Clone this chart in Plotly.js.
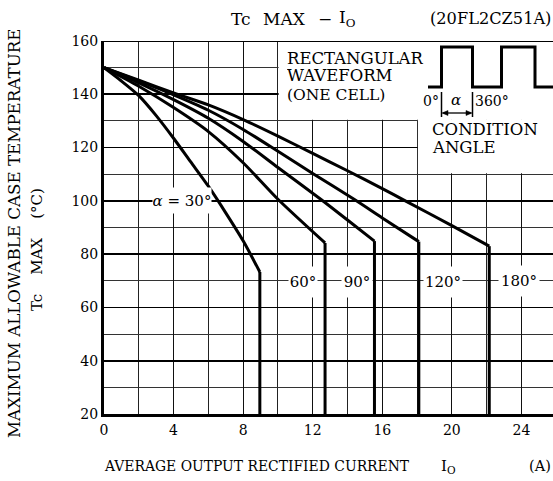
<!DOCTYPE html>
<html>
<head>
<meta charset="utf-8">
<script src="https://cdn.plot.ly/plotly-3.0.1.min.js"></script>
<style>
html,body{margin:0;padding:0;overflow:hidden;background:#fff;}
#chart{width:600px;height:481px;}
</style>
</head>
<body>
<div id="chart"></div>
<script>
// ---- data ----
var seriesNames = ["30°", "60°", "90°", "120°", "180°"];
var io30  = [0, 1, 2, 3, 4, 5, 6, 7, 8, 8.96, 8.96];
var tc30  = [150, 145, 139.5, 132, 123.5, 114.5, 105.5, 95.5, 85, 73.3, 20];
var io60  = [0, 2, 4, 6, 8, 10, 12.71, 12.71];
var tc60  = [150, 143, 135, 126, 114.3, 100.6, 84.2, 20];
var io90  = [0, 2, 4, 6, 8, 10, 12.48, 14, 15.55, 15.55];
var tc90  = [150, 144.3, 138, 131, 122.3, 112.5, 100.5, 92.8, 84.9, 20];
var io120 = [0, 2, 4, 6, 8, 10, 12, 14.4, 16, 18.1, 18.1];
var tc120 = [150, 145, 139.8, 134, 126.8, 118.6, 110.3, 100.5, 93.6, 84.7, 20];
var io180 = [0, 2, 4, 6, 8, 10, 12, 14, 16, 17.27, 20, 22.15, 22.15];
var tc180 = [150, 145.3, 140.5, 136, 130.5, 124.3, 117.8, 111.3, 104.6, 100.2, 90.7, 83, 20];
var xTickVals = [0, 4, 8, 12, 16, 20, 24];
var yTickVals = [20, 40, 60, 80, 100, 120, 140, 160];

// ---- layout geometry ----
var W = 600, H = 481;
var L = 104, R = 9, T = 41, B = 67;
var xMin = 0, xMax = 28, yMin = 20, yMax = 160;
var pw = W - L - R, ph = H - T - B;
function px2x(px){ return xMin + (px - L) / pw * (xMax - xMin); }
function py2y(py){ return yMax - (py - T) / ph * (yMax - yMin); }
function px2p(px){ return (px - L) / pw; }
function py2p(py){ return (H - B - py) / ph; }

var FONT = "DejaVu Serif";

var series = [[io30, tc30], [io60, tc60], [io90, tc90], [io120, tc120], [io180, tc180]];
var traces = [];
series.forEach(function(s, i){
  var n = s[0].length;
  // derating curve (smooth) up to the knee
  traces.push({type: "scatter", mode: "lines", name: seriesNames[i],
    x: s[0].slice(0, n - 1), y: s[1].slice(0, n - 1),
    line: {color: "#000", width: 3, shape: "spline", smoothing: 0.7},
    hoverinfo: "skip", showlegend: false});
  // vertical current limit
  traces.push({type: "scatter", mode: "lines", name: seriesNames[i] + " limit",
    x: s[0].slice(n - 2), y: s[1].slice(n - 2),
    line: {color: "#000", width: 3},
    hoverinfo: "skip", showlegend: false});
});

function txt(text, px, py, size, xanchor, extra){
  var a = {text: text, x: px2p(px), y: py2p(py), xref: "paper", yref: "paper",
    showarrow: false, xanchor: xanchor || "left", yanchor: "middle",
    font: {family: FONT, size: size, color: "#000"}};
  if (extra) for (var k in extra) a[k] = extra[k];
  return a;
}

function curveLabel(text, px, py, w){
  return txt(text, px, py, 15, "center", {bgcolor: "#fff", width: w, height: 30, borderpad: 0});
}

var annotations = [
  // title
  txt("Tc", 229, 19, 17, "left"),
  txt("MAX", 261, 19, 17, "left"),
  txt("−", 316, 19, 17, "left"),
  txt("I<sub>O</sub>", 337, 19, 17, "left"),
  txt("(20FL2CZ51A)", 428, 19, 16.2, "left"),
  // axis titles
  txt("AVERAGE OUTPUT RECTIFIED CURRENT", 102, 466, 13.9, "left"),
  txt("I<sub>O</sub>", 439, 466, 15, "left"),
  txt("(A)", 527, 466, 14.5, "left"),
  txt("MAXIMUM ALLOWABLE CASE TEMPERATURE", 14, 234, 16.7, "center", {textangle: -90}),
  txt("Tc    MAX    (°C)", 37, 250, 15, "center", {textangle: -90}),
  // inset
  txt("RECTANGULAR", 286, 57.5, 16.5, "left", {height: 18, borderpad: 0}),
  txt("WAVEFORM", 286, 75.5, 16.5, "left", {height: 18, borderpad: 0}),
  txt("(ONE CELL)", 286, 95, 15.5, "left", {borderpad: 0}),
  txt("0°", 431, 101, 14, "center"),
  txt("<i>α</i>", 456, 100, 15, "center"),
  txt("360°", 473, 101, 14, "left"),
  txt("CONDITION", 431, 129, 16.5, "left", {height: 18, borderpad: 0}),
  txt("ANGLE", 431, 147, 16.5, "left", {height: 18, borderpad: 0}),
  // curve labels
  txt("<i>α</i> = 30°", 182, 201, 15, "center", {bgcolor: "#fff", width: 58, height: 25, borderpad: 0}),
  curveLabel("60°", 302.5, 282, 28),
  curveLabel("90°", 356.5, 282, 30),
  curveLabel("120°", 442.5, 282, 38),
  curveLabel("180°", 518.5, 281, 40)
];

function pathFrom(pts, close){
  return pts.map(function(p, i){ return (i ? "L" : "M") + px2x(p[0]) + "," + py2y(p[1]); }).join(" ") + (close ? " Z" : "");
}
var wave = [[428,87],[441.5,87],[441.5,47],[472.5,47],[472.5,87],[501.5,87],[501.5,47],[535,47],[535,87],[560,87]];

var shapes = [
  // white areas hiding grid behind the inset
  {type: "rect", xref: "x", yref: "y", x0: 10.04, x1: 28, y0: 130.4, y1: 160, fillcolor: "#fff", line: {width: 0}, layer: "between"},
  {type: "rect", xref: "x", yref: "y", x0: 18.05, x1: 28, y0: 110.4, y1: 130.6, fillcolor: "#fff", line: {width: 0}, layer: "between"},
  // top frame line
  {type: "line", xref: "x", yref: "y", x0: 0, x1: 28, y0: 160, y1: 160, line: {color: "#000", width: 2}, layer: "above"},
  // waveform
  {type: "path", xref: "x", yref: "y", path: pathFrom(wave, false), line: {color: "#000", width: 3}, layer: "above"},
  // angle marker ticks
  {type: "line", xref: "x", yref: "y", x0: px2x(441.5), x1: px2x(441.5), y0: py2y(92), y1: py2y(117), line: {color: "#000", width: 1.5}, layer: "above"},
  {type: "line", xref: "x", yref: "y", x0: px2x(472.5), x1: px2x(472.5), y0: py2y(92), y1: py2y(117), line: {color: "#000", width: 1.5}, layer: "above"},
  // double arrow
  {type: "line", xref: "x", yref: "y", x0: px2x(443), x1: px2x(471), y0: py2y(113), y1: py2y(113), line: {color: "#000", width: 1.3}, layer: "above"},
  {type: "path", xref: "x", yref: "y", path: pathFrom([[442,113],[448,110.5],[448,115.5]], true), fillcolor: "#000", line: {color: "#000", width: 0.5}, layer: "above"},
  {type: "path", xref: "x", yref: "y", path: pathFrom([[472,113],[466,110.5],[466,115.5]], true), fillcolor: "#000", line: {color: "#000", width: 0.5}, layer: "above"}
];

var layout = {
  width: W, height: H,
  margin: {l: L, r: R, t: T, b: B, pad: 0},
  paper_bgcolor: "#fff", plot_bgcolor: "#fff",
  showlegend: false,
  font: {family: FONT, size: 14, color: "#000"},
  xaxis: {
    range: [xMin, xMax], tickmode: "array", tickvals: xTickVals, ticks: "",
    showgrid: true, gridcolor: "#111", gridwidth: 1.2,
    minor: {dtick: 2, tick0: 0, showgrid: true, gridcolor: "#222", gridwidth: 1.1, ticks: ""},
    showline: true, linecolor: "#000", linewidth: 3, zeroline: false,
    tickfont: {family: FONT, size: 14, color: "#000"}, ticklabelstandoff: 1
  },
  yaxis: {
    range: [yMin, yMax], tickmode: "array", tickvals: yTickVals, ticks: "",
    showgrid: true, gridcolor: "#000", gridwidth: 1.6,
    minor: {dtick: 10, tick0: 0, showgrid: true, gridcolor: "#333", gridwidth: 1, ticks: ""},
    showline: true, linecolor: "#000", linewidth: 3, zeroline: false,
    tickfont: {family: FONT, size: 14, color: "#000"}, ticklabelstandoff: 0
  },
  annotations: annotations,
  shapes: shapes
};

Plotly.newPlot("chart", traces, layout, {staticPlot: true, displayModeBar: false});
</script>
</body>
</html>
